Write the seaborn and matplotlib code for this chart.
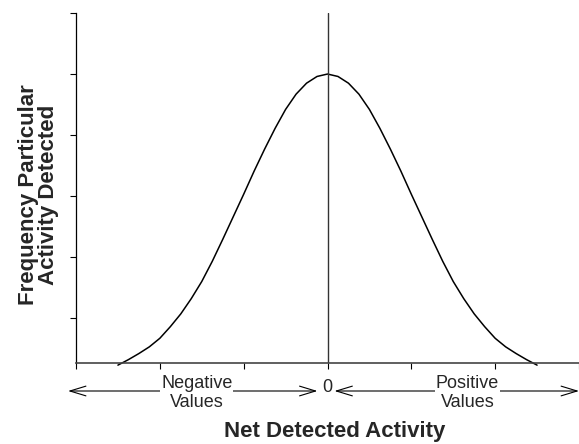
import matplotlib
matplotlib.use("Agg")
import matplotlib.pyplot as plt
import pandas as pd
import seaborn as sns

# curve values (x in tick units, y in tick units)
xValues = [-2.5, -2.375, -2.25, -2.125, -2.0, -1.875, -1.75, -1.625, -1.5, -1.375,
           -1.25, -1.125, -1.0, -0.875, -0.75, -0.625, -0.5, -0.375, -0.25, -0.125,
           0.0, 0.125, 0.25, 0.375, 0.5, 0.625, 0.75, 0.875, 1.0, 1.125,
           1.25, 1.375, 1.5, 1.625, 1.75, 1.875, 2.0, 2.125, 2.25, 2.375, 2.5]
frequency = [0.23, 0.32, 0.42, 0.53, 0.67, 0.86, 1.07, 1.32, 1.60, 1.93,
             2.29, 2.66, 3.03, 3.41, 3.77, 4.11, 4.42, 4.67, 4.85, 4.96,
             5.0, 4.96, 4.85, 4.67, 4.42, 4.11, 3.77, 3.41, 3.03, 2.66,
             2.29, 1.93, 1.60, 1.32, 1.07, 0.86, 0.67, 0.53, 0.42, 0.32, 0.23]
xTicks = [-3, -2, -1, 0, 1, 2, 3]
yTicks = [1, 2, 3, 4, 5, 6]

df = pd.DataFrame({"activity": xValues, "frequency": frequency})

sns.set_style("ticks")
plt.rcParams["font.family"] = ["Liberation Sans", "DejaVu Sans"]

fig = plt.figure(figsize=(5.79, 4.44), dpi=100)
ax = fig.add_axes([76 / 579, 1 - 362.7 / 444, 503 / 579, 349.7 / 444])

sns.lineplot(data=df, x="activity", y="frequency", color="black", linewidth=1.1, ax=ax)
for l in ax.get_lines():
    l.set_clip_on(False)

ax.axvline(0, color="#333333", linewidth=1.0)

ax.set_xlim(-3, 3)
ax.set_ylim(0.27, 6)
ax.set_xticks(xTicks)
ax.set_yticks(yTicks)
ax.set_xticklabels([])
ax.set_yticklabels([])
ax.tick_params(axis="both", direction="out", length=4, width=0.8, color="black")
sns.despine(ax=ax)
ax.spines["left"].set_color("black")
ax.spines["left"].set_linewidth(0.9)
ax.spines["bottom"].set_color("#444444")
ax.spines["bottom"].set_linewidth(1.2)

ax.set_xlabel("Net Detected Activity", fontsize=16, fontweight="bold")
ax.xaxis.set_label_coords(0.515, -0.167)
ax.set_ylabel("Frequency Particular\nActivity Detected", fontsize=16,
              fontweight="bold", linespacing=0.95)
ax.yaxis.set_label_coords(-0.034, 0.48)

# arrows under the axis
arrowY = 1 - 391 / 444
arrowProps = dict(arrowstyle="<->,head_length=1.15,head_width=0.35",
                  color="black", linewidth=0.8, mutation_scale=10,
                  shrinkA=0, shrinkB=0)
coords = ("data", "figure fraction")
ax.annotate("", xy=(-3.095, arrowY), xytext=(-0.12, arrowY),
            xycoords=coords, textcoords=coords,
            arrowprops=arrowProps, annotation_clip=False)
ax.annotate("", xy=(0.083, arrowY), xytext=(3.0, arrowY),
            xycoords=coords, textcoords=coords,
            arrowprops=arrowProps, annotation_clip=False)

labelBox = dict(boxstyle="square,pad=0.05", fc="white", ec="none")
ax.annotate("Negative\nValues", xy=(-1.56, 1 - 393 / 444), xycoords=coords,
            fontsize=13, ha="center", va="center", linespacing=1.2,
            annotation_clip=False, bbox=labelBox)
ax.annotate("Positive\nValues", xy=(1.67, 1 - 393 / 444), xycoords=coords,
            fontsize=13, ha="center", va="center", linespacing=1.2,
            annotation_clip=False, bbox=labelBox)
ax.annotate("0", xy=(0, 1 - 387 / 444), xycoords=coords,
            fontsize=13, ha="center", va="center", annotation_clip=False)

plt.savefig("out.png", dpi=100)
